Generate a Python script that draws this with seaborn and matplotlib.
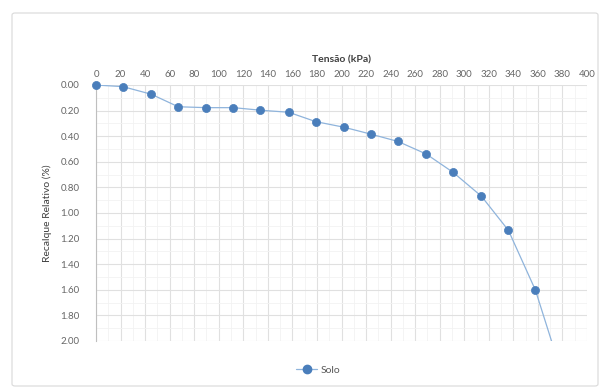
import matplotlib
matplotlib.use("Agg")
import matplotlib.pyplot as plt
import seaborn as sns
import pandas as pd
import numpy as np
from matplotlib.patches import FancyBboxPatch
from matplotlib.lines import Line2D

tensao = [0, 22, 45, 67, 90, 112, 134, 157, 179, 202, 224, 246, 269, 291, 314, 336, 358, 381]
recalque = [0.00, 0.013, 0.072, 0.17, 0.177, 0.177, 0.197, 0.213, 0.286, 0.33, 0.384,
            0.441, 0.539, 0.683, 0.869, 1.136, 1.603, 2.30]
series_name = "Solo"
x_ticks = list(range(0, 401, 20))
y_ticks = [0.0, 0.2, 0.4, 0.6, 0.8, 1.0, 1.2, 1.4, 1.6, 1.8, 2.0]

df = pd.DataFrame({"Tensão (kPa)": tensao, "Recalque": recalque, "Série": series_name})
visible = df[df["Recalque"] <= 2.0]

LINE_C = "#8fb4dc"
MARK_C = "#4a7ebb"

sns.set_style("white")
plt.rcParams["font.family"] = ["Lato", "DejaVu Sans"]

fig = plt.figure(figsize=(6.0, 3.91), dpi=100)
fig.patches.append(FancyBboxPatch((12 / 600, 5 / 391), 586 / 600, 373 / 391,
                                  boxstyle="round,pad=0,rounding_size=0.005",
                                  transform=fig.transFigure, facecolor="white",
                                  edgecolor="#d9d9d9", linewidth=0.8, zorder=-5))

ax = fig.add_axes([96 / 600, 1 - 341 / 391, (587 - 96) / 600, (341 - 85) / 391])
ax.set_facecolor("none")

sns.lineplot(data=df, x="Tensão (kPa)", y="Recalque", ax=ax, sort=False,
             color=LINE_C, linewidth=0.9, legend=False)
sns.scatterplot(data=visible, x="Tensão (kPa)", y="Recalque", ax=ax, s=34,
                color=MARK_C, edgecolor=MARK_C, linewidth=0.5, legend=False,
                clip_on=False, zorder=3)

ax.set_xlim(0, 400)
ax.set_ylim(2.0, 0.0)
ax.set_xticks(x_ticks)
ax.set_xticks(range(10, 400, 20), minor=True)
ax.set_yticks(y_ticks)
ax.set_yticks(np.arange(0.1, 2.0, 0.2), minor=True)
ax.set_yticklabels([f"{v:.2f}" for v in y_ticks])
ax.xaxis.tick_top()
ax.xaxis.set_label_position("top")
ax.tick_params(axis="x", which="both", length=0, labelsize=7, colors="#666666", pad=4)
ax.tick_params(axis="y", which="both", length=0, labelsize=7, colors="#666666", pad=12)

ax.grid(True, which="major", color="#e0e0e0", linewidth=0.8)
ax.grid(True, which="minor", color="#f2f2f2", linewidth=0.6)
ax.set_axisbelow(True)
for s in ["top", "right", "bottom"]:
    ax.spines[s].set_visible(False)
ax.spines["left"].set_color("#bfbfbf")
ax.spines["left"].set_linewidth(0.8)

ax.set_xlabel("Tensão (kPa)", fontsize=7.5, color="#404040", fontweight="bold", labelpad=6)
ax.set_ylabel("Recalque Relativo (%)", fontsize=7.5, color="#404040", labelpad=6)

handle = Line2D([], [], color=LINE_C, linewidth=0.9, marker="o", markersize=6,
                markerfacecolor=MARK_C, markeredgecolor=MARK_C)
fig.legend([handle], [series_name], loc="center", bbox_to_anchor=(318 / 600, 1 - 370 / 391),
           frameon=False, fontsize=7.5, labelcolor="#595959", handlelength=2.0,
           handletextpad=0.3)

fig.savefig("out.png", dpi=100)
